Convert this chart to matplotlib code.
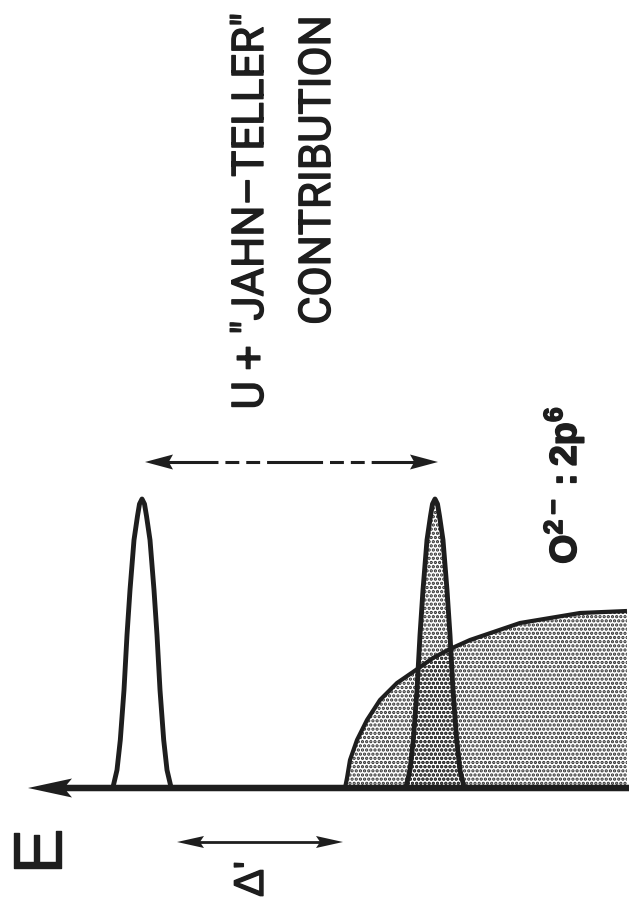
import matplotlib
matplotlib.use('Agg')
import matplotlib.pyplot as plt
from matplotlib import font_manager
import matplotlib.patheffects as pe
import numpy as np

plt.rcParams['font.family'] = ['Liberation Sans', 'DejaVu Sans']
plt.rcParams['mathtext.fontset'] = 'custom'
plt.rcParams['mathtext.rm'] = 'Liberation Sans'
plt.rcParams['mathtext.bf'] = 'Liberation Sans:bold'
plt.rcParams['hatch.linewidth'] = 1.6
plt.rcParams['lines.scale_dashes'] = False

INK = '#1e1e1e'
DOT = '#2a2a2a'

# picture is drawn in pixel units, y measured upward from the E axis
BASE = 788

# peak shape: height above the axis and half width at that height
peak_height = [289, 284, 272, 248, 198, 153, 98, 48, 18, 3, 0]
peak_halfwidth = [0, 2.5, 4.5, 8, 12, 15, 18, 21.7, 25, 28.5, 29]
peak_centers = [142, 435]
peak_shaded = [False, True]

# upper edge of the O 2p band
band_x = [345, 347, 350, 357, 367, 380, 397, 413, 433, 450, 470, 520, 580, 627]
band_y = [0, 10, 28, 48, 68, 88, 105, 116, 130, 139, 148, 165, 175, 177]

label_e = 'E'
label_delta = "\u0394'"
label_u = 'U + "JAHN\u2013TELLER"'
label_contrib = 'CONTRIBUTION'
label_band = r'$\mathbf{O^{2-}:2p^{6}}$'

# narrow sans for the two long labels, whatever is installed
names = {f.name for f in font_manager.fontManager.ttflist}
if 'Liberation Sans Narrow' in names:
    narrow_family, narrow_size = ['Liberation Sans Narrow', 'Liberation Sans'], 34
elif 'Roboto' in names:
    narrow_family, narrow_size = ['Roboto', 'Liberation Sans'], 31.5
else:
    narrow_family, narrow_size = ['Liberation Sans'], 29

heavy = [pe.withStroke(linewidth=1.0, foreground=INK)]


def peak_outline(center):
    h = np.array(peak_height, dtype=float)
    w = np.array(peak_halfwidth, dtype=float)
    xs = np.concatenate([center - w[::-1], center + w[1:]])
    ys = np.concatenate([h[::-1], h[1:]])
    return xs, ys


def head(ax, tip_x, y, direction, length, width):
    # arrow head only (shaft length zero)
    ax.arrow(tip_x - direction * length, y, direction * length, 0, width=0.1,
             head_width=width, head_length=length, length_includes_head=True,
             overhang=0.15, color=INK, linewidth=0, zorder=5)


fig = plt.figure(figsize=(6.29, 9.01), dpi=100)
ax = fig.add_axes([0, 0, 1, 1])
ax.set_xlim(0, 629)
ax.set_ylim(BASE - 901, BASE)
ax.axis('off')

# --- O 2p band ---
ax.fill_between(band_x, 0, band_y, facecolor='none', edgecolor=DOT,
                linewidth=0, hatch='....', zorder=1)
ax.plot(band_x, band_y, color=INK, lw=3.0, solid_capstyle='butt', zorder=3)

# --- peaks ---
for c, shaded in zip(peak_centers, peak_shaded):
    xs, ys = peak_outline(c)
    if shaded:
        ax.fill_between(xs, 0, ys, facecolor='none', edgecolor=DOT,
                        linewidth=0, hatch='....', zorder=1)
    ax.plot(xs, ys, color=INK, lw=3.5, solid_joinstyle='round', zorder=3)

# --- E axis ---
ax.arrow(629, 0, -601, 0, width=6.5, head_width=19, head_length=44,
         length_includes_head=True, overhang=0.12, color=INK, linewidth=0, zorder=4)

# --- U + Jahn-Teller arrow (dash-dot-dot) ---
y_u = BASE - 462
ax.plot([162, 425], [y_u, y_u], color=INK, lw=2.2,
        dashes=(40.3, 5, 10, 5, 10, 5), zorder=4)
head(ax, 145, y_u, -1, 28, 15)
head(ax, 438, y_u, 1, 28, 15)

# --- delta' arrow ---
y_d = BASE - 842
ax.plot([190, 330], [y_d, y_d], color=INK, lw=2.0, zorder=4)
head(ax, 177, y_d, -1, 27, 12)
head(ax, 343, y_d, 1, 27, 12)

# --- labels ---
ax.text(61, BASE - 851, label_e, rotation=90, rotation_mode='anchor',
        ha='center', va='baseline', fontsize=49, color=INK, path_effects=heavy)
ax.text(263, BASE - 879, label_delta, rotation=90, rotation_mode='anchor',
        ha='center', va='baseline', fontsize=30, color=INK, path_effects=heavy)
ax.text(263, BASE - 211, label_u, rotation=90, rotation_mode='anchor',
        ha='center', va='baseline', fontsize=narrow_size, family=narrow_family,
        color=INK, path_effects=heavy)
ax.text(330, BASE - 170, label_contrib, rotation=90, rotation_mode='anchor',
        ha='center', va='baseline', fontsize=narrow_size, family=narrow_family,
        color=INK, path_effects=heavy)
ax.text(576, BASE - 485, label_band, rotation=90, rotation_mode='anchor',
        ha='center', va='baseline', fontsize=27, color=INK,
        path_effects=[pe.withStroke(linewidth=1.2, foreground=INK)])

fig.savefig('out.png', dpi=100)
plt.close(fig)
